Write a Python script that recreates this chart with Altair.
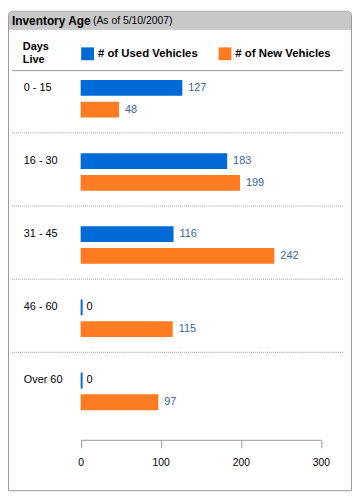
import altair as alt
import pandas as pd

# ---- data ----
categories = ["0 - 15", "16 - 30", "31 - 45", "46 - 60", "Over 60"]
used_vehicles = [127, 183, 116, 0, 0]
new_vehicles = [48, 199, 242, 115, 97]
series_names = ["# of Used Vehicles", "# of New Vehicles"]
series_colors = ["#006ad6", "#ff7b22"]
x_ticks = [0, 100, 200, 300]
title_text = "Inventory Age"
subtitle_text = "(As of 5/10/2007)"
row_header = ["Days", "Live"]

rows = []
for c, u, n in zip(categories, used_vehicles, new_vehicles):
    rows.append({"age": c, "series": series_names[0], "count": u})
    rows.append({"age": c, "series": series_names[1], "count": n})
df = pd.DataFrame(rows)
one = pd.DataFrame({"k": [0]})
sep_df = pd.DataFrame({"age": categories[1:]})

W, H = 348, 434
PAD_BOTTOM = 52
FONT = "Liberation Sans"

yscale = alt.Scale(domain=categories, range=[49, 419], paddingInner=0, paddingOuter=0)
yoff_scale = alt.Scale(domain=series_names, paddingInner=6 / 22, paddingOuter=0.818, align=21 / 36)
xscale = alt.Scale(domain=[0, 300], range=[73.5, 316.5], nice=False)
color_scale = alt.Scale(domain=series_names, range=series_colors)

X = alt.X("count:Q", scale=xscale,
          axis=alt.Axis(values=x_ticks, title=None, grid=False, labelFlush=False,
                        domainColor="#999999", tickColor="#999999", tickSize=8,
                        labelFont=FONT, labelFontSize=10.5, labelColor="black",
                        labelPadding=10, zindex=1))
Y = alt.Y("age:N", scale=yscale, axis=None)
YO = alt.YOffset("series:N", scale=yoff_scale)

panel = alt.Chart(one).mark_rect(fill="white", stroke="#999999", strokeWidth=1,
                                 cornerRadiusTopLeft=4, cornerRadiusTopRight=4).encode(
    x=alt.value(0.5), x2=alt.value(W - 0.5), y=alt.value(0.5),
    y2=alt.value(H + PAD_BOTTOM - 0.5))
header = alt.Chart(one).mark_rect(fill="#c8c8c8", cornerRadiusTopLeft=3,
                                  cornerRadiusTopRight=3).encode(
    x=alt.value(1), x2=alt.value(W - 1), y=alt.value(1), y2=alt.value(18))
header_line = alt.Chart(one).mark_rule(color="#a8a8a8").encode(
    x=alt.value(1), x2=alt.value(W - 1), y=alt.value(18.5))
legend_line = alt.Chart(one).mark_rule(color="#999999").encode(
    x=alt.value(4), x2=alt.value(339), y=alt.value(60.5))

seps = alt.Chart(sep_df).mark_rule(color="#999999", strokeDash=[1, 1], yOffset=0.5).encode(
    y=alt.Y("age:N", scale=yscale, axis=None, bandPosition=0),
    x=alt.value(4), x2=alt.value(339))

bars = alt.Chart(df).mark_bar().encode(
    x=X, y=Y, yOffset=YO,
    color=alt.Color("series:N", scale=color_scale, title=None,
                    legend=alt.Legend(orient="none", legendX=74, legendY=37,
                                      direction="horizontal", symbolType="square",
                                      symbolSize=169, symbolStrokeWidth=0,
                                      labelFont=FONT, labelFontSize=11.5,
                                      labelFontWeight="bold", labelColor="black",
                                      columnPadding=21, labelOffset=4, padding=0)))

zero_bars = alt.Chart(df).transform_filter("datum.count == 0").mark_bar(
    strokeWidth=2, xOffset=1).encode(
    x=X, y=Y, yOffset=YO,
    color=alt.Color("series:N", scale=color_scale, title=None),
    stroke=alt.Stroke("series:N", scale=color_scale, legend=None))

value_labels = alt.Chart(df).mark_text(align="left", baseline="middle", dx=6,
                                       font=FONT, fontSize=11).encode(
    x=X, y=Y, yOffset=YO, text="count:Q",
    color=alt.condition("datum.count == 0", alt.value("black"), alt.value("#336699")))

cat_labels = alt.Chart(df).transform_filter(alt.datum.series == series_names[0]).mark_text(
    align="left", baseline="middle", font=FONT, fontSize=11, color="black").encode(
    x=alt.value(16), y=Y, yOffset=YO, text="age:N")

days_live = alt.Chart(one).mark_text(align="left", baseline="alphabetic", font=FONT,
                                     fontSize=11, fontWeight="bold", color="black",
                                     lineHeight=13, text=row_header).encode(
    x=alt.value(15), y=alt.value(40))

title = alt.Chart(one).mark_text(align="left", baseline="middle", font=FONT, fontSize=12,
                                 fontWeight="bold", color="black", text=title_text).encode(
    x=alt.value(4), y=alt.value(10))
subtitle = alt.Chart(one).mark_text(align="left", baseline="middle", font=FONT, fontSize=10.5,
                                    color="black", text=subtitle_text).encode(
    x=alt.value(86), y=alt.value(10.5))

chart = alt.layer(panel, header, header_line, legend_line, seps, bars, zero_bars,
                  value_labels, cat_labels, days_live, title, subtitle).properties(
    width=W, height=H,
    autosize=alt.AutoSizeParams(type="none"),
    padding={"left": 0, "top": 0, "right": 0, "bottom": PAD_BOTTOM},
).configure_view(strokeWidth=0)

chart.save("out.html", embed_options={"renderer": "svg", "actions": False})
